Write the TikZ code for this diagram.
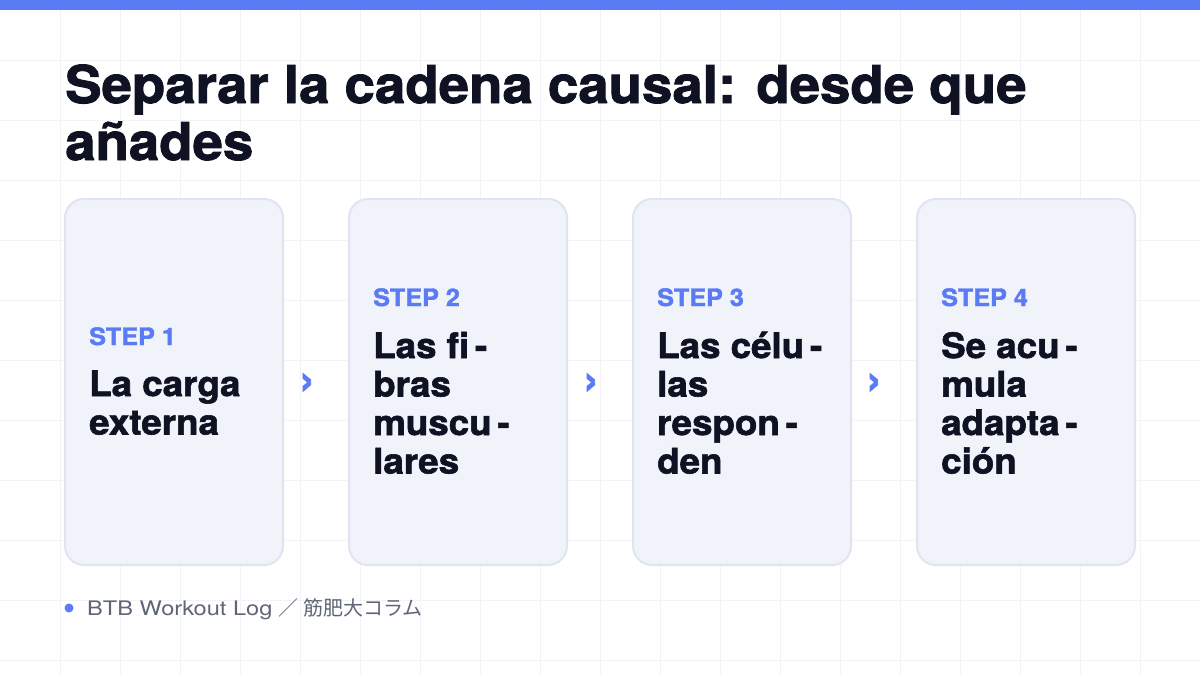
\documentclass[tikz,border=0pt]{standalone}
\usepackage{fontspec}
\setmainfont{TeX Gyre Heros}[BoldFeatures={FakeStretch=1.05,FakeBold=1.7}]
\newfontfamily\footfont{TeX Gyre Heros}[FakeStretch=1.18]
\newfontfamily\cjkfont{Noto Sans CJK JP}
\definecolor{barblue}{HTML}{5B7BF5}
\definecolor{inkdark}{HTML}{0F1222}
\definecolor{cardfill}{HTML}{F1F3FB}
\definecolor{cardline}{HTML}{E0E4F1}
\definecolor{gridgray}{HTML}{F2F3F6}
\definecolor{footgray}{HTML}{5F6577}

\begin{document}
\begin{tikzpicture}[x=1pt,y=-1pt,
  card/.style={draw=cardline,line width=2pt,fill=cardfill,rounded corners=19pt,
    minimum width=218pt,minimum height=366pt,inner sep=0pt},
  steplabel/.style={text=barblue,font=\fontsize{24}{24}\selectfont\bfseries,
    anchor=base west,inner sep=0pt},
  steptext/.style={text=inkdark,font=\fontsize{35}{38.5}\selectfont\bfseries,
    align=left,anchor=base west,inner sep=0pt},
  chevron/.style={text=barblue,font=\fontsize{44}{44}\selectfont\bfseries,inner sep=0pt}]
  \useasboundingbox (0,0) rectangle (1200,675);
  \fill[white] (0,0) rectangle (1200,675);

  % background grid
  \foreach \gx in {60,120,...,1140}
    \draw[gridgray,line width=1pt] (\gx,10) -- (\gx,675);
  \foreach \gy in {60,120,...,660}
    \draw[gridgray,line width=1pt] (0,\gy) -- (1200,\gy);
  \fill[barblue] (0,0) rectangle (1200,10); % top bar

  % title (base = last line)
  \node[text=inkdark,font=\fontsize{52}{57}\selectfont\bfseries,align=left,
    anchor=base west,inner sep=0pt] (title) at (65,160)
    {Separar la cadena causal: desde que\\añades};

  % cards
  \node[card] (1) at (174,382) {};
  \node[card] (2) at (458,382) {};
  \node[card] (3) at (742,382) {};
  \node[card] (4) at (1026,382) {};

  \node[steplabel] (s1) at (89,345) {STEP 1};
  \node[steplabel] (s2) at (373,306) {STEP 2};
  \node[steplabel] (s3) at (657,306) {STEP 3};
  \node[steplabel] (s4) at (941,306) {STEP 4};

  \node[steptext] (t1) at (89,434.5) {La carga\\externa};
  \node[steptext] (t2) at (373,473.5) {Las fi\,-\\bras\\muscu\,-\\lares};
  \node[steptext] (t3) at (657,473.5) {Las célu\,-\\las\\respon\,-\\den};
  \node[steptext] (t4) at (941,473.5) {Se acu\,-\\mula\\adapta\,-\\ción};

  % chevrons between cards
  \node[chevron] (a12) at (307,384) {›};
  \node[chevron] (a23) at (591,384) {›};
  \node[chevron] (a34) at (874,384) {›};

  % footer
  \fill[barblue] (69,608) circle (4.5pt);
  \node[text=footgray,font=\fontsize{20}{20}\selectfont\footfont,anchor=base west,
    inner sep=0pt] (foot) at (87,615) {BTB Workout Log {\cjkfont ／ 筋肥大コラム}};
\end{tikzpicture}
\end{document}
